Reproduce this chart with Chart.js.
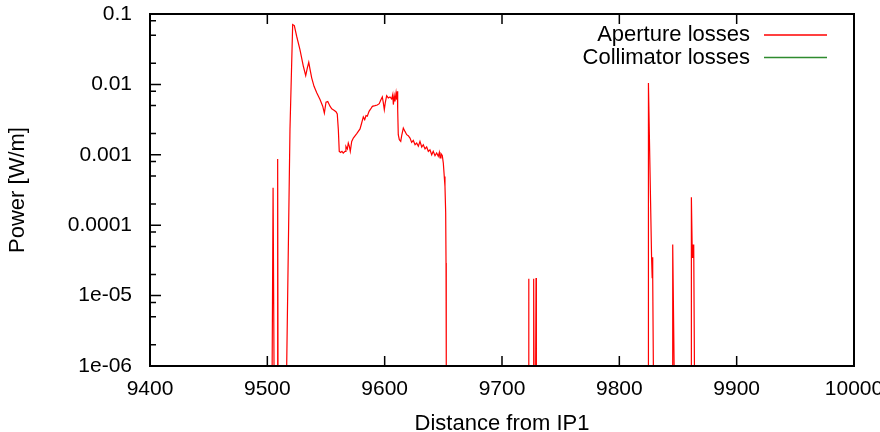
<!DOCTYPE html>
<html>
<head>
<meta charset="utf-8">
<script src="https://cdn.jsdelivr.net/npm/chart.js@4.4.1/dist/chart.umd.min.js"></script>
<style>
  html, body { margin: 0; padding: 0; background: #fff; }
  #chart { display: block; }
</style>
</head>
<body>
<canvas id="chart" width="880" height="432"></canvas>
<script>
// distance from IP1 [m], null power = gap in the line
const distance = [
  9504.1, 9504.9, 9505.7, 9507,
  9508.5, 9508.8, 9509.1, 9512,
  9516.5, 9519.3, 9521.6, 9523.0, 9525.0, 9527.8, 9530.7, 9532.7, 9534.1, 9535.3,
  9536.4, 9537.8, 9539.8, 9542.1, 9544.9, 9547.2, 9548.6, 9550.0, 9551.5, 9553.4,
  9554.9, 9556.8, 9558.5, 9559.6, 9560.5, 9561.3, 9562.5, 9563.6, 9564.7, 9566.2,
  9567.0, 9568.2, 9569.0, 9569.9, 9570.7, 9571.9, 9573.3, 9576.2, 9579.0, 9580.4,
  9581.8, 9583.0, 9584.1, 9585.2, 9586.7, 9588.1, 9589.5, 9591.8, 9593.7, 9595.4,
  9596.6, 9598.0, 9598.8, 9599.7, 9600.5, 9601.7, 9603.1, 9604.5, 9606.0, 9606.9,
  9607.4, 9608.2, 9608.8, 9609.7, 9610.3, 9610.8, 9611.1, 9611.6, 9612.5, 9613.7,
  9614.5, 9615.9, 9617.3, 9618.8, 9620.1, 9621.6, 9623.0, 9624.4, 9625.9, 9627.3,
  9628.7, 9630.1, 9631.6, 9632.9, 9634.4, 9635.8, 9637.2, 9638.6, 9640.1, 9641.4,
  9642.9, 9644.3, 9645.7, 9646.6, 9647.2, 9648.0, 9649.1, 9650.0, 9650.8, 9651.4,
  9652.0, 9652.3, 9652.5, 9690,
  9722.4, 9722.7, 9723.0, 9725,
  9726.7, 9727.0, 9727.3, 9728,
  9728.7, 9729.0, 9729.3, 9780,
  9824.5, 9824.8, 9827.5, 9828.0, 9828.3, 9828.6, 9829.0, 9840,
  9845.3, 9845.5, 9846.7, 9855,
  9861.1, 9861.4, 9862.2, 9862.6, 9863.0, 9863.4, 9864.0
];
// aperture losses [W/m]
const aperture = [
  1e-6, 3.4e-4, 1e-6, null,
  1e-6, 8.7e-4, 1e-6, null,
  1e-6, 2.28e-3, 0.071, 0.0686, 0.0483, 0.0313, 0.0181, 0.0133, 0.0172, 0.0206,
  0.0163, 0.0124, 0.0094, 0.0076, 0.0061, 0.0049, 0.0039, 0.0056, 0.0057, 0.0049,
  0.0045, 0.0043, 0.0041, 0.0038, 0.0023, 0.00112, 0.00108, 0.00112, 0.00106, 0.00112,
  0.00132, 0.00121, 0.00147, 0.00132, 0.00112, 0.00155, 0.00173, 0.0020, 0.00233, 0.00283,
  0.00345, 0.00316, 0.0036, 0.00354, 0.00414, 0.00448, 0.00488, 0.00499, 0.0051, 0.00533,
  0.00594, 0.00664, 0.00556, 0.00438, 0.00546, 0.00693, 0.00643, 0.00664, 0.00622, 0.00716,
  0.00517, 0.00678, 0.00575, 0.00757, 0.00608, 0.00798, 0.00438, 0.00193, 0.00164, 0.00155,
  0.00187, 0.0024, 0.00215, 0.00193, 0.00187, 0.00173, 0.0015, 0.0016, 0.00139, 0.00147,
  0.00132, 0.00155, 0.00129, 0.00139, 0.00121, 0.00129, 0.00112, 0.00118, 0.0010, 0.00112,
  0.00097, 0.00106, 0.00095, 0.00108, 0.0009, 0.00104, 0.00098, 0.00076, 0.00049, 0.000356,
  0.00015, 2.9e-5, 1e-6, null,
  1e-6, 1.73e-5, 1e-6, null,
  1e-6, 1.73e-5, 1e-6, null,
  1e-6, 1.78e-5, 1e-6, null,
  1e-6, 0.0105, 3.4e-5, 1.8e-5, 3.5e-5, 1.8e-5, 1e-6, null,
  1e-6, 5.3e-5, 1e-6, null,
  1e-6, 2.5e-4, 3.5e-5, 5.3e-5, 3.6e-5, 5.3e-5, 1e-6
];
// collimator losses: nothing above 1e-6 in this range
const collimatorDistance = [];
const collimator = [];

const xTicks = [9400, 9500, 9600, 9700, 9800, 9900, 10000];
const yTicks = [0.1, 0.01, 0.001, 0.0001, 1e-5, 1e-6];
const yTickLabels = ['0.1', '0.01', '0.001', '0.0001', '1e-05', '1e-06'];
const yMinor = [2, 5, 8];

const FONT = "'Liberation Sans', Arial, Helvetica, sans-serif";

function pairs(xs, ys) {
  return xs.map((x, i) => ({ x: x, y: ys[i] }));
}

// gnuplot style box: border, inward ticks, legend at the top right
const gnuplotFrame = {
  id: 'gnuplotFrame',
  afterDatasetsDraw(chart) {
    const { ctx, chartArea: a, scales } = chart;
    const x = scales.x, y = scales.y;
    ctx.save();
    ctx.strokeStyle = '#000';
    ctx.lineWidth = 1.5;
    ctx.beginPath();
    xTicks.forEach(v => {
      const px = x.getPixelForValue(v);
      ctx.moveTo(px, a.bottom);
      ctx.lineTo(px, a.bottom - 10);
      ctx.moveTo(px, a.top);
      ctx.lineTo(px, a.top + 10);
    });
    yTicks.forEach(v => {
      const py = y.getPixelForValue(v);
      ctx.moveTo(a.left, py);
      ctx.lineTo(a.left + 11, py);
    });
    for (let e = -6; e < -1; e++) {
      yMinor.forEach(m => {
        const py = y.getPixelForValue(m * Math.pow(10, e));
        ctx.moveTo(a.left, py);
        ctx.lineTo(a.left + 6, py);
      });
    }
    ctx.stroke();
    ctx.lineWidth = 2;
    ctx.strokeRect(a.left, a.top, a.right - a.left, a.bottom - a.top);

    // legend
    ctx.font = '22px ' + FONT;
    ctx.textAlign = 'right';
    ctx.textBaseline = 'middle';
    chart.data.datasets.forEach((ds, i) => {
      const ly = 35 + i * 22.5;
      ctx.fillStyle = '#000';
      ctx.fillText(ds.label, 750, ly);
      ctx.strokeStyle = ds.borderColor;
      ctx.lineWidth = 1.4;
      ctx.beginPath();
      ctx.moveTo(764, ly);
      ctx.lineTo(827, ly);
      ctx.stroke();
    });
    ctx.restore();
  }
};

new Chart(document.getElementById('chart'), {
  type: 'line',
  data: {
    datasets: [{
      label: 'Aperture losses',
      data: pairs(distance, aperture),
      borderColor: '#ff0000',
      borderWidth: 1.2,
      pointRadius: 0,
      tension: 0,
      spanGaps: false
    }, {
      label: 'Collimator losses',
      data: pairs(collimatorDistance, collimator),
      borderColor: '#2e8b2e',
      borderWidth: 1.2,
      pointRadius: 0
    }]
  },
  options: {
    responsive: false,
    animation: false,
    devicePixelRatio: 1,
    layout: { padding: { top: 14, right: 26, left: 0, bottom: 0 } },
    plugins: {
      legend: { display: false },
      tooltip: { enabled: false }
    },
    scales: {
      x: {
        type: 'linear',
        min: 9400,
        max: 10000,
        grid: { display: false, drawTicks: false },
        border: { display: false },
        ticks: {
          stepSize: 100,
          autoSkip: false,
          maxRotation: 0,
          padding: 11,
          color: '#000',
          font: { family: FONT, size: 21 },
          callback: v => String(v)
        },
        title: {
          display: true,
          text: 'Distance from IP1',
          color: '#000',
          font: { family: FONT, size: 22, lineHeight: 0.73 },
          padding: 0
        },
        afterFit(scale) {
          scale.height = 66;
          scale.paddingLeft = 0;
          scale.paddingRight = 0;
        }
      },
      y: {
        type: 'logarithmic',
        min: 1e-6,
        max: 0.1,
        grid: { display: false, drawTicks: false },
        border: { display: false },
        afterBuildTicks(scale) {
          scale.ticks = yTicks.map(v => ({ value: v }));
        },
        ticks: {
          autoSkip: false,
          padding: 18,
          color: '#000',
          font: { family: FONT, size: 21 },
          callback: (v) => {
            const i = yTicks.findIndex(t => Math.abs(t - v) / t < 1e-6);
            return i >= 0 ? yTickLabels[i] : '';
          }
        },
        title: {
          display: true,
          text: 'Power [W/m]',
          color: '#000',
          font: { family: FONT, size: 22 },
          padding: { top: 5, bottom: 0 }
        },
        afterFit(scale) {
          scale.width = 150;
          scale.paddingTop = 0;
          scale.paddingBottom = 0;
        }
      }
    }
  },
  plugins: [gnuplotFrame]
});
</script>
</body>
</html>
